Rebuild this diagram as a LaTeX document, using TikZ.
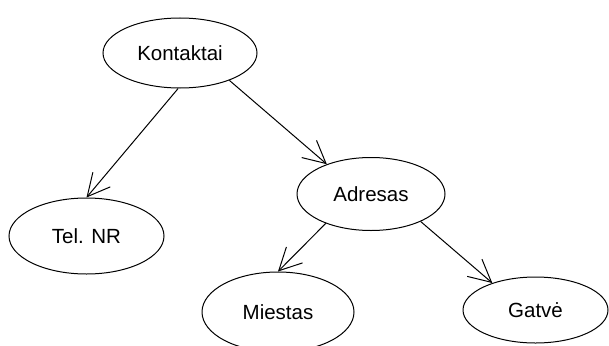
\documentclass[tikz,border=0pt]{standalone}
\usepackage{fontspec}
\setmainfont{Liberation Sans}
\usetikzlibrary{shapes.geometric,arrows.meta}
\begin{document}
\begin{tikzpicture}[x=1pt,y=-1pt,
  entity/.style={draw, ellipse, line width=1pt, inner sep=0pt,
    font=\fontsize{20.5}{24}\selectfont},
  link/.style={line width=1pt, -{Straight Barb[angle=54:25pt]}}]
  \useasboundingbox (0,0) rectangle (609,345);
  \clip (0,0) rectangle (609,345);
  % entities
  \node[entity, minimum width=154pt, minimum height=70pt] (kont) at (180,53) {Kontaktai};
  \node[entity, minimum width=155pt, minimum height=76pt] (tel) at (86.5,236) {Tel. NR};
  \node[entity, minimum width=148pt, minimum height=73pt] (adr) at (371,194) {Adresas};
  \node[entity, minimum width=152pt, minimum height=80pt] (mie) at (278,312) {Miestas};
  \node[entity, minimum width=145pt, minimum height=66pt] (gat) at (535.5,310) {Gatvė};
  % relations
  \draw[link] (kont.-93) -- (tel.90);
  \draw[link] (kont.-29) -- (adr.146);
  \draw[link] (adr.-147) -- (mie.90);
  \draw[link] (adr.-29) -- (gat.148);
\end{tikzpicture}
\end{document}
